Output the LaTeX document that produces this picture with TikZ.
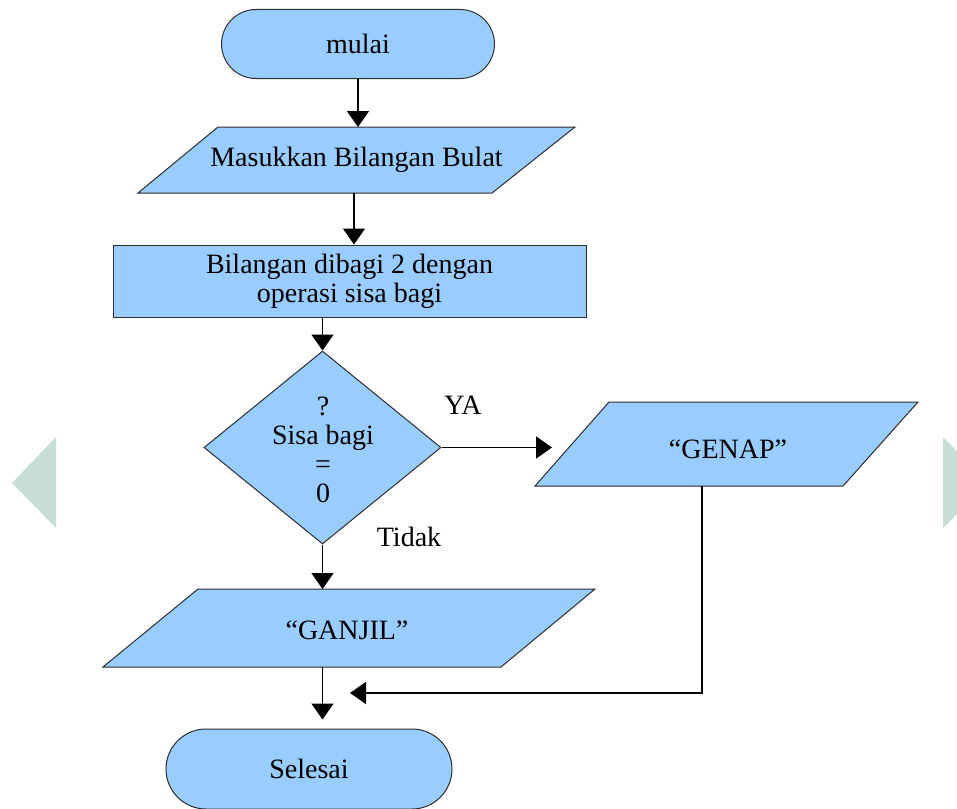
\documentclass[tikz,border=0pt]{standalone}
\usepackage{fontspec}
\setmainfont{Liberation Serif}
\usetikzlibrary{shapes.geometric,shapes.misc,arrows.meta}
\definecolor{boxfill}{RGB}{153,204,255}
\definecolor{boxline}{RGB}{45,45,45}
\definecolor{sidetri}{RGB}{200,222,213}
\begin{document}
\begin{tikzpicture}[x=1pt,y=-1pt,
  every node/.style={font=\fontsize{28}{29}\selectfont, text=black},
  shapebase/.style={draw=boxline, fill=boxfill, line width=1pt, inner sep=0pt},
  term/.style={shapebase, rounded rectangle},
  procbox/.style={shapebase, rectangle, align=center},
  iobox/.style={draw=boxline, fill=boxfill, line width=1pt, line join=miter},
  decbox/.style={shapebase, diamond},
  arr/.style={draw=black, line width=1.6pt, -{Triangle[width=22pt,length=16pt]}},
  lbl/.style={inner sep=0pt}
]
\useasboundingbox (0,0) rectangle (957,808);
\fill[white] (0,0) rectangle (957,808);
% decorative side triangles
\fill[sidetri] (56,437) -- (12,483) -- (56,528) -- cycle;
\fill[sidetri] (943,437) -- (988,483) -- (943,528) -- cycle;

% shapes
\node[term, minimum width=273pt, minimum height=69pt] (start) at (358,44) {mulai};

\draw[iobox] (138,193) -- (218,127) -- (575,127) -- (492,193) -- cycle;
\node[lbl] (in) at (356.5,160) {Masukkan Bilangan Bulat};
\coordinate (in-n) at (358,127);
\coordinate (in-s) at (354,193);

\node[procbox, minimum width=473pt, minimum height=72pt] (proc) at (349.5,281)
  {Bilangan dibagi 2 dengan\\operasi sisa bagi};

\node[decbox, minimum width=237pt, minimum height=193pt] (dec) at (322.5,447.5) {};
\node[lbl, align=center] (dectxt) at (323,450) {?\\Sisa bagi\\=\\0};

\draw[iobox] (535,486) -- (609,402) -- (918,402) -- (843,486) -- cycle;
\node[lbl] (genap) at (728,449) {“GENAP”};
\coordinate (genap-s) at (702,486);

\draw[iobox] (103,667) -- (198,589) -- (595,589) -- (501,667) -- cycle;
\node[lbl] (ganjil) at (347,630) {“GANJIL”};
\coordinate (ganjil-n) at (322.5,589);
\coordinate (ganjil-s) at (322.5,667);

\node[term, minimum width=286pt, minimum height=80pt] (end) at (309,769) {Selesai};

% labels
\node[lbl] (ya) at (463,405) {YA};
\node[lbl] (tidak) at (409,537) {Tidak};

% helper coordinates
\coordinate (yaend) at (552,447.5);
\coordinate (retx) at (702,693);
\coordinate (join) at (350,693);

% connectors
\draw[arr] (start.south) -- (in-n);
\draw[arr] (in-s) -- (in-s |- proc.north);
\draw[arr] (proc.south -| dec.north) -- (dec.north);
\draw[arr] (dec.east) -- (yaend);
\draw[arr] (dec.south) -- (ganjil-n);
\draw[arr, shorten >=9pt] (ganjil-s) -- (ganjil-s |- end.north);
\draw[arr] (genap-s) -- (retx) -- (join);
\end{tikzpicture}
\end{document}
